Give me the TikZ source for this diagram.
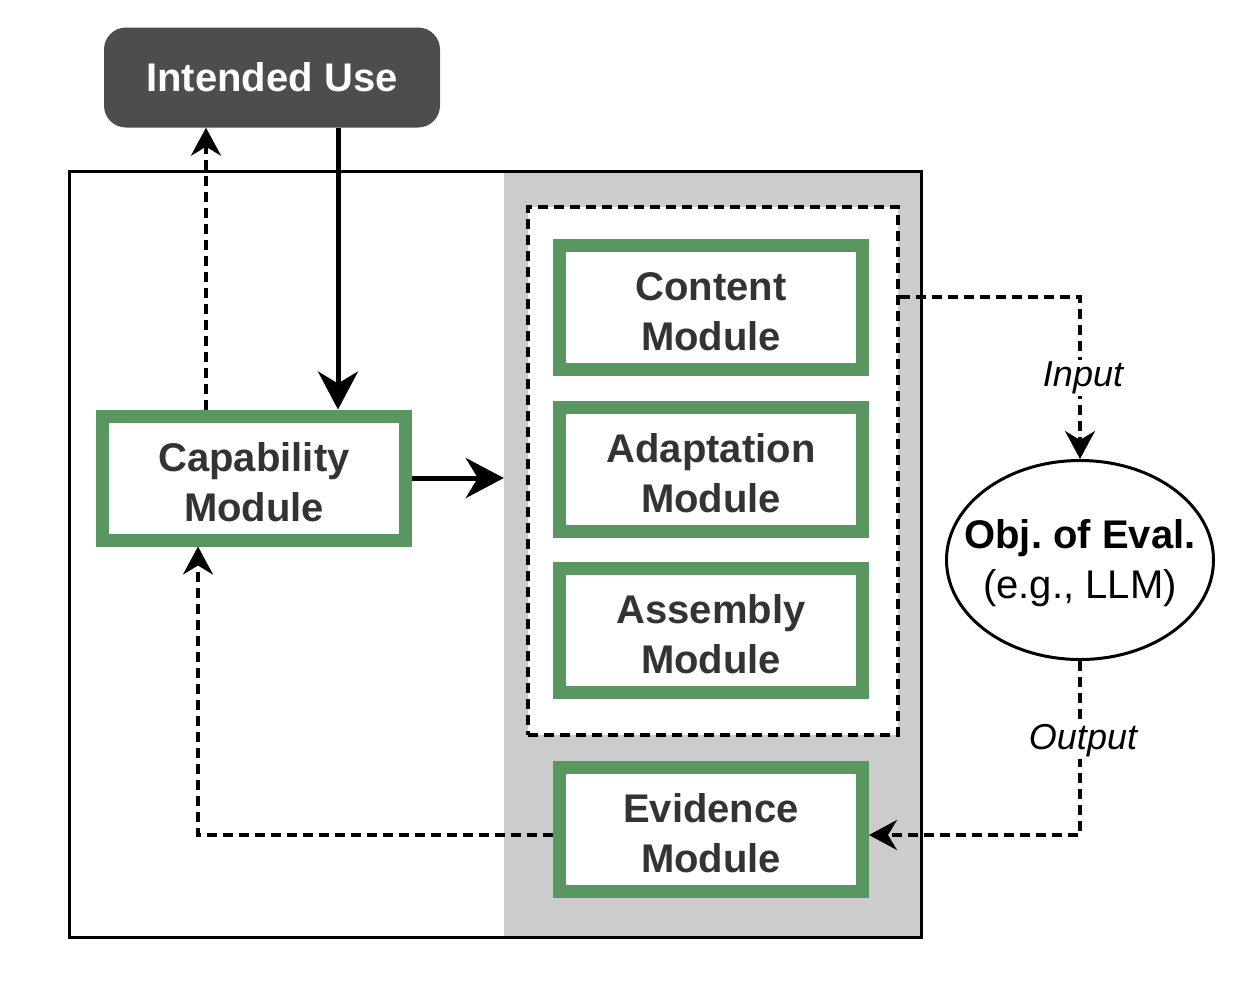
\documentclass[tikz,border=0pt]{standalone}
\usepackage{fontspec}
\setmainfont{Liberation Sans}
\usetikzlibrary{arrows.meta,shapes.geometric,positioning}
\definecolor{modgreen}{HTML}{5A9660}
\definecolor{txtgray}{HTML}{333333}
\definecolor{boxgray}{HTML}{CCCCCC}
\definecolor{darkbox}{HTML}{4D4D4D}
\tikzset{
  modtext/.style={align=center, text=txtgray, inner sep=0pt, yshift=-4pt, font=\fontsize{40}{50}\selectfont\bfseries},
  module/.style={draw=modgreen, line width=13pt, fill=white, minimum width=303pt, minimum height=124pt,
    inner sep=0pt, label={[modtext]center:#1}},
  thickarrow/.style={line width=5pt, -{Stealth[length=38pt,width=40pt,inset=12pt]}},
  dasharrow/.style={line width=3.3pt, dash pattern=on 10pt off 6pt, -{Stealth[length=28pt,width=30pt,inset=9pt]}},
  dashline/.style={line width=3.3pt, dash pattern=on 10pt off 6pt},
  flowlabel/.style={fill=white, inner sep=2pt, font=\fontsize{36}{40}\selectfont\itshape}
}
\begin{document}
\begin{tikzpicture}[x=1pt,y=-1pt]
\useasboundingbox (0,0) rectangle (1240,986);
% outer frame and gray region
\node[fill=white, minimum width=851pt, minimum height=765pt, inner sep=0pt] (outer) at (495.5,554.5) {};
\node[fill=boxgray, minimum width=417pt, minimum height=765pt, inner sep=0pt] (gray) at (712.5,554.5) {};
\draw[line width=3pt] (outer.north west) rectangle (outer.south east);
% dashed group
\node[draw, dashline, fill=white, minimum width=370pt, minimum height=528pt, inner sep=0pt] (group) at (713,471) {};
% intended use
\node[fill=darkbox, rounded corners=22pt, minimum width=336pt, minimum height=100pt, inner sep=0pt,
  text=white, font=\fontsize{40}{50}\selectfont\bfseries] (iu) at (272,77.5) {Intended Use};
% modules
\node[module={Capability\\Module}] (cap) at (254,478) {};
\node[module={Content\\Module}] (content) at (711,307.5) {};
\node[module={Adaptation\\Module}] (adapt) at (711,469) {};
\node[module={Assembly\\Module}] (assembly) at (711,630.5) {};
\node[module={Evidence\\Module}] (evidence) at (711,829) {};
% object of evaluation
\node[draw, ellipse, line width=3pt, fill=white, minimum width=267pt, minimum height=199pt, inner sep=0pt] (obj) at (1080,560) {};
\node[align=center, inner sep=0pt, font=\fontsize{40}{50}\selectfont, yshift=-3pt] (objtext) at (obj.center) {\textbf{Obj.\ of Eval.}\\(e.g., LLM)};
% connectors
\draw[thickarrow] ([xshift=66pt]iu.south) -- ([xshift=84pt]cap.north);
\draw[thickarrow] (cap.east) -- (cap.east -| gray.west);
\draw[dasharrow] ([xshift=-48pt]cap.north) -- ([xshift=-66pt]iu.south);
\draw[dasharrow] ([yshift=174pt]group.east) -| (obj.north) node[pos=0.75, flowlabel, xshift=3pt] {Input};
\draw[dasharrow] (obj.south) |- ([yshift=-6pt]evidence.east) node[pos=0.23, flowlabel, xshift=3pt] {Output};
\draw[dasharrow] ([yshift=-6pt]evidence.west) -| ([xshift=-56pt]cap.south);
\end{tikzpicture}
\end{document}
